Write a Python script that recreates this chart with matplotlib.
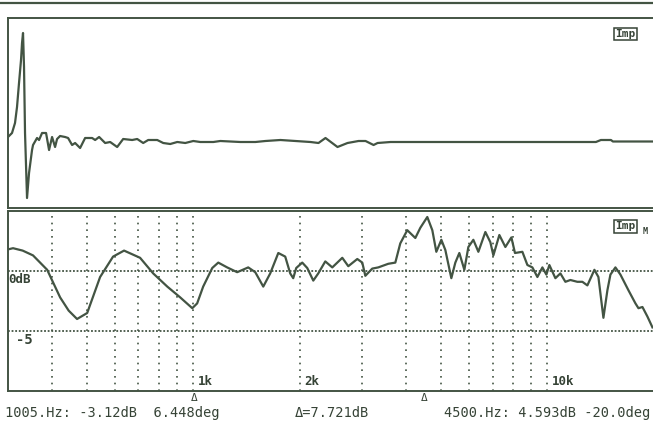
import matplotlib
matplotlib.use('Agg')
import matplotlib.pyplot as plt
from matplotlib.lines import Line2D
from matplotlib.ticker import NullLocator, NullFormatter

ink = '#435443'
txt = '#364336'
mono = 'DejaVu Sans Mono'

# impulse response (time in ms, relative amplitude)
imp_t = [0.00, 0.04, 0.07, 0.09, 0.11, 0.13, 0.14, 0.15, 0.16, 0.17, 0.19, 0.21,
         0.24, 0.25, 0.29, 0.31, 0.34, 0.38, 0.41, 0.44, 0.47, 0.49, 0.52, 0.57,
         0.60, 0.64, 0.67, 0.72, 0.77, 0.84, 0.87, 0.91, 0.97, 1.02, 1.09, 1.15,
         1.24, 1.29, 1.35, 1.40, 1.49, 1.55, 1.62, 1.69, 1.77, 1.85, 1.92, 2.05,
         2.12, 2.32, 2.47, 2.57, 2.72, 2.87, 3.02, 3.10, 3.17, 3.29, 3.39, 3.50,
         3.57, 3.65, 3.69, 3.82, 4.15, 4.32, 5.87, 5.92, 6.02, 6.04, 6.45]
imp_a = [0.04, 0.08, 0.18, 0.34, 0.58, 0.81, 0.98, 1.08, 0.74, 0.08, -0.57, -0.32,
         -0.09, -0.04, 0.03, 0.01, 0.08, 0.08, -0.09, 0.04, -0.06, 0.02, 0.05, 0.04,
         0.03, -0.04, -0.02, -0.07, 0.03, 0.03, 0.01, 0.04, -0.02, -0.01, -0.06, 0.02,
         0.01, 0.02, -0.02, 0.01, 0.01, -0.02, -0.03, -0.01, -0.02, 0.0, -0.01, -0.01,
         0.0, -0.01, -0.01, 0.0, 0.01, 0.0, -0.01, -0.02, 0.03, -0.06, -0.02, 0.0,
         0.0, -0.04, -0.02, -0.01, -0.01, -0.01, -0.01, 0.01, 0.01, -0.005, -0.005]

# frequency response (Hz, dB)
freq = [300, 310, 330, 353, 387, 421, 445, 470, 502, 546, 594, 638, 708, 771, 845, 919, 994,
        1026, 1067, 1132, 1177, 1247, 1331, 1430, 1497, 1577, 1650, 1739, 1819, 1879,
        1916, 1954, 2032, 2099, 2183, 2255, 2360, 2470, 2636, 2741, 2906, 3002, 3062,
        3203, 3331, 3554, 3721, 3843, 4022, 4238, 4378, 4581, 4733, 4858, 5019, 5151,
        5356, 5497, 5642, 5829, 5983, 6180, 6385, 6682, 6902, 7039, 7318, 7610, 7913,
        8100, 8500, 8781, 9071, 9371, 9681, 9935, 10130, 10535, 10882, 11241, 11614,
        12150, 12554, 12970, 13576, 13934, 14395, 14774, 15066, 15563, 16078, 16935,
        17727, 18077, 18553, 19166, 19800]
mag_db = [1.8, 1.9, 1.7, 1.3, 0.1, -2.2, -3.3, -4.0, -3.5, -0.5, 1.2, 1.7, 1.1, -0.2, -1.3, -2.2, -3.1,
          -2.7, -1.3, 0.25, 0.7, 0.3, -0.1, 0.3, -0.1, -1.3, -0.2, 1.5, 1.2, -0.2,
          -0.6, 0.25, 0.7, 0.25, -0.8, -0.2, 0.8, 0.3, 1.1, 0.4, 1.0, 0.7, -0.4,
          0.2, 0.3, 0.6, 0.7, 2.3, 3.4, 2.75, 3.6, 4.5, 3.4, 1.6, 2.6, 1.75,
          -0.6, 0.7, 1.5, 0.1, 2.0, 2.6, 1.6, 3.25, 2.4, 1.3, 3.0, 2.0, 2.8,
          1.5, 1.6, 0.5, 0.3, -0.5, 0.3, -0.3, 0.5, -0.6, -0.2, -0.9, -0.75,
          -0.9, -0.9, -1.2, 0.1, -0.5, -3.9, -1.6, -0.3, 0.3, -0.3, -1.6,
          -2.7, -3.1, -3.0, -3.8, -4.7]

grid_freqs = [400, 500, 600, 700, 800, 900, 1000, 2000, 3000, 4000, 5000,
              6000, 7000, 8000, 9000, 10000]
freq_labels = {1000: '1k', 2000: '2k', 10000: '10k'}
cursor_freqs = [1005, 4500]
readout_left = '1005.Hz: -3.12dB  6.448deg'
readout_mid = '\u0394=7.721dB'
readout_right = '4500.Hz: 4.593dB -20.0deg'

W, H = 653, 430
fig = plt.figure(figsize=(W / 100, H / 100), dpi=100)

def fx(px):
    return px / W

def fy(py):
    return 1 - py / H

ax1 = fig.add_axes([fx(8), fy(208), fx(646), (208 - 18) / H])
ax2 = fig.add_axes([fx(8), fy(391), fx(646), (391 - 211) / H])

# impulse panel
ax1.plot(imp_t, imp_a, color=ink, lw=1.6)
ax1.set_xlim(0, 6.45)
ax1.set_ylim(-0.67, 1.23)
ax1.text(0.94, 0.915, 'Imp', transform=ax1.transAxes, fontsize=8, fontweight='bold',
         family=mono, color=txt, va='center', ha='left',
         bbox=dict(boxstyle='square,pad=0.12', fc='white', ec=txt, lw=1.1))

# frequency response panel
ax2.set_xscale('log')
ax2.set_xlim(300, 20000)
ax2.set_ylim(-10, 5)
for f in grid_freqs:
    ax2.axvline(f, color=ink, lw=1.2, ls=(0, (1, 3)))
for d in (0, -5):
    ax2.axhline(d, color=ink, lw=1.3, ls=(0, (1, 1)))
ax2.plot(freq, mag_db, color=ink, lw=1.6)

for ax in (ax1, ax2):
    ax.set_xticks([])
    ax.set_yticks([])
    ax.xaxis.set_minor_locator(NullLocator())
    ax.xaxis.set_minor_formatter(NullFormatter())
    ax.spines['right'].set_visible(False)
    for s in ('left', 'top', 'bottom'):
        ax.spines[s].set_color(ink)
        ax.spines[s].set_linewidth(1.4)

ax2.text(0.0, -0.15, '0dB', transform=ax2.get_yaxis_transform(), family=mono,
         fontsize=9, fontweight='bold', color=txt, va='top', ha='left')
ax2.text(0.012, -5.15, '-5', transform=ax2.get_yaxis_transform(), family=mono,
         fontsize=10, fontweight='bold', color=txt, va='top', ha='left')
for f, lab in freq_labels.items():
    ax2.text(f * 1.03, -9.75, lab, family=mono, fontsize=9, fontweight='bold',
             color=txt, va='bottom', ha='left')

ax2.text(0.94, 0.915, 'Imp', transform=ax2.transAxes, fontsize=8, fontweight='bold',
         family=mono, color=txt, va='center', ha='left',
         bbox=dict(boxstyle='square,pad=0.12', fc='white', ec=txt, lw=1.1))
ax2.text(0.983, 0.885, 'M', transform=ax2.transAxes, fontsize=6, fontweight='bold',
         family=mono, color=txt, va='center', ha='left')

for f in cursor_freqs:
    ax2.text(f, -10.2, '\u0394', family=mono, fontsize=8, color=txt,
             va='top', ha='center', clip_on=False)

fig.text(fx(5), fy(413), readout_left, family=mono, fontsize=9.8, color=txt, va='center', ha='left')
fig.text(fx(295), fy(413), readout_mid, family=mono, fontsize=9.8, color=txt, va='center', ha='left')
fig.text(fx(444), fy(413), readout_right, family=mono, fontsize=9.8, color=txt, va='center', ha='left')

# frame line at very top
fig.add_artist(Line2D([0, 1], [fy(3), fy(3)], color=ink, lw=1.6))

fig.savefig('out.png', dpi=100, facecolor='white')
